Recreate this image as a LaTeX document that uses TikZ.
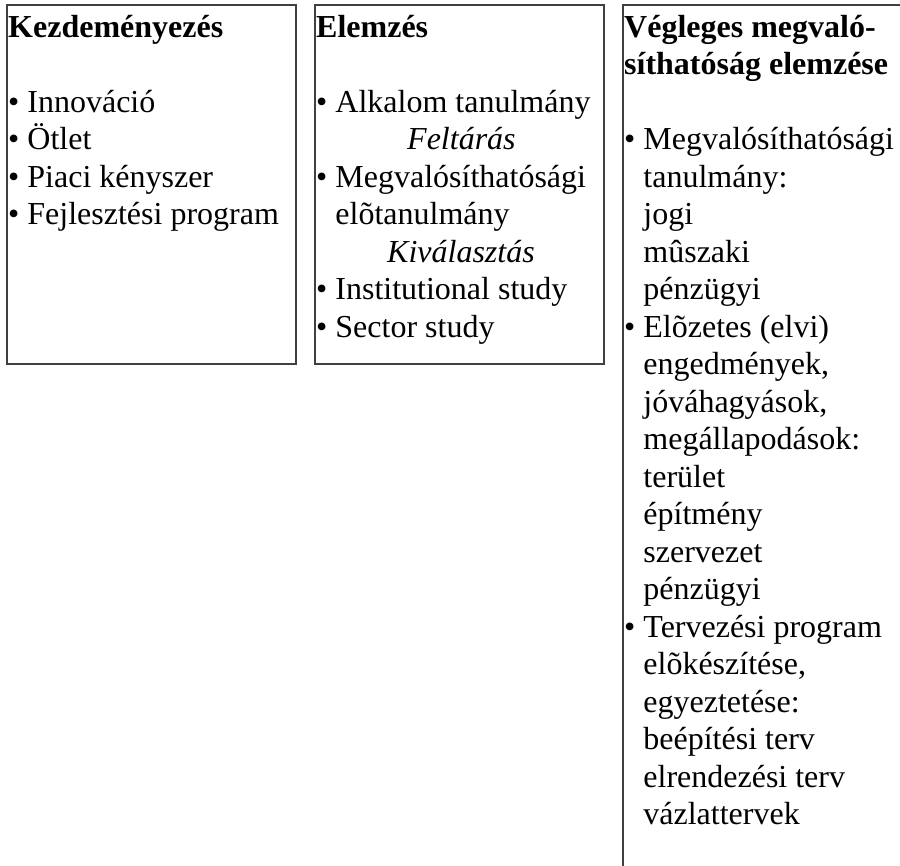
\documentclass[tikz,border=0pt]{standalone}
\usepackage{fontspec}
\setmainfont{Liberation Serif}
\newcommand{\itm}{•\ }
\newcommand{\ind}{\hphantom{•}\ }
\begin{document}
\begin{tikzpicture}[x=1pt,y=-1pt,
			box/.style={draw=black!75,line width=1.2pt},
			col/.style={anchor=north west,align=left,inner sep=0pt,
				font=\fontsize{32}{37.5}\selectfont}]
			\clip (0,0) rectangle (900,866);
			\fill[white] (0,0) rectangle (900,866);
			% keretek
			\draw[box] (7,5) rectangle (296,364);
			\draw[box] (315,5) rectangle (604,364);
			\draw[box] (623,5) rectangle (920,900);
			% oszlopok
			\node[col] (kezd) at (8,10.75) {\strut\textbf{Kezdeményezés}\\[37.5pt]
				\itm Innováció\\
				\itm Ötlet\\
				\itm Piaci kényszer\\
				\itm Fejlesztési program};
			\node[col] (elem) at (316,10.75) {\strut\textbf{Elemzés}\\[37.5pt]
				\itm Alkalom tanulmány\\
				\hspace*{91pt}\textit{Feltárás}\\
				\itm Megvalósíthatósági\\
				\ind elõtanulmány\\
				\hspace*{71pt}\textit{Kiválasztás}\\
				\itm Institutional study\\
				\itm Sector study};
			\node[col] (vegl) at (624,10.75) {\strut\textbf{Végleges megvaló-}\\
				\textbf{síthatóság elemzése}\\[37.5pt]
				\itm Megvalósíthatósági\\
				\ind tanulmány:\\
				\ind jogi\\
				\ind mûszaki\\
				\ind pénzügyi\\
				\itm Elõzetes (elvi)\\
				\ind engedmények,\\
				\ind jóváhagyások,\\
				\ind megállapodások:\\
				\ind terület\\
				\ind építmény\\
				\ind szervezet\\
				\ind pénzügyi\\
				\itm Tervezési program\\
				\ind elõkészítése,\\
				\ind egyeztetése:\\
				\ind beépítési terv\\
				\ind elrendezési terv\\
				\ind vázlattervek};
		\end{tikzpicture}
\end{document}
